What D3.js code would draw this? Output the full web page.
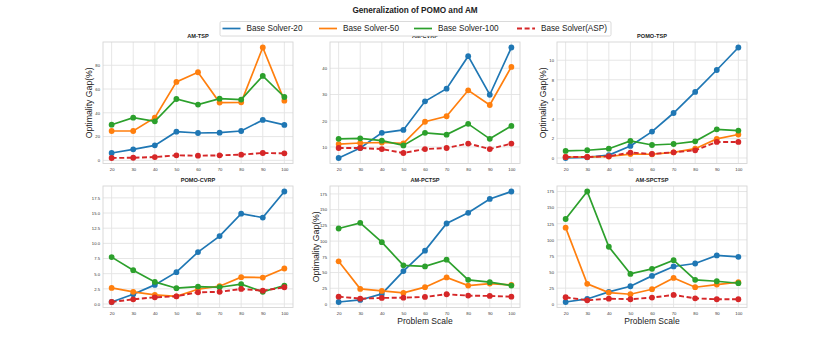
<!DOCTYPE html>
<html>
<head>
<meta charset="utf-8">
<script src="https://cdn.jsdelivr.net/npm/d3@7"></script>
<style>
  body { margin: 0; background: #fff; }
  svg { display: block; font-family: "Liberation Sans", Arial, sans-serif; }
</style>
</head>
<body>
<svg id="chart" width="830" height="346"></svg>
<script>
const scales = [20, 30, 40, 50, 60, 70, 80, 90, 100];
const seriesNames = ["Base Solver-20", "Base Solver-50", "Base Solver-100", "Base Solver(ASP)"];
const colors = ["#1f77b4", "#ff7f0e", "#2ca02c", "#d62728"];

// each panel: [solver-20, solver-50, solver-100, ASP]
const amTsp = [
    [6.2, 9.3, 12.6, 24.1, 23.0, 23.3, 24.7, 34.0, 29.8],
    [24.7, 24.7, 35.9, 66.0, 74.1, 48.6, 48.8, 94.9, 50.2],
    [30.0, 35.9, 32.8, 51.6, 46.9, 51.9, 51.1, 71.0, 53.3],
    [2.0, 2.2, 2.8, 4.2, 3.9, 4.2, 4.8, 6.2, 5.9]
];
const amCvrp = [
    [5.8, 9.6, 15.4, 16.5, 27.4, 32.2, 44.6, 29.9, 47.9],
    [11.1, 11.5, 11.7, 11.4, 19.6, 21.7, 31.6, 26.0, 40.5],
    [13.1, 13.3, 12.4, 10.6, 15.4, 14.7, 18.8, 13.1, 18.0],
    [9.6, 9.6, 9.2, 7.7, 9.2, 9.6, 11.3, 9.2, 11.3]
];
const pomoTsp = [
    [0.0, 0.07, 0.3, 1.23, 2.7, 4.6, 6.76, 9.0, 11.3],
    [0.1, 0.1, 0.15, 0.4, 0.38, 0.58, 0.95, 1.95, 2.4],
    [0.72, 0.79, 0.95, 1.74, 1.33, 1.43, 1.7, 2.93, 2.8],
    [0.1, 0.1, 0.17, 0.55, 0.41, 0.58, 0.78, 1.64, 1.64]
];
const pomoCvrp = [
    [0.33, 1.6, 3.15, 5.25, 8.56, 11.2, 14.9, 14.25, 18.55],
    [2.65, 2.0, 1.5, 1.27, 2.43, 2.93, 4.42, 4.36, 5.85],
    [7.73, 5.58, 3.64, 2.6, 2.87, 2.76, 3.26, 2.0, 3.04],
    [0.33, 0.77, 1.1, 1.27, 1.93, 2.0, 2.48, 2.2, 2.76]
];
const amPctsp = [
    [3.2, 6.4, 16.0, 52.3, 84.8, 128.0, 145.0, 167.0, 178.8],
    [67.8, 24.0, 20.8, 17.6, 26.7, 42.2, 29.3, 32.5, 30.4],
    [120.0, 129.0, 98.2, 61.4, 59.8, 70.4, 38.4, 34.7, 29.3],
    [11.7, 8.5, 9.6, 10.1, 11.2, 15.5, 13.3, 12.8, 11.7]
];
const amSpctsp = [
    [3.6, 8.3, 19.2, 28.0, 44.1, 58.7, 63.3, 75.8, 73.7],
    [118.9, 31.7, 18.2, 15.6, 23.4, 41.0, 26.5, 30.6, 34.3],
    [132.4, 175.0, 89.3, 47.2, 55.0, 68.5, 37.9, 35.8, 32.7],
    [10.9, 6.2, 8.8, 7.8, 10.4, 14.5, 9.3, 7.8, 7.8]
];

const panels = [
    { title: "AM-TSP", data: amTsp, ticks: [0, 20, 40, 60, 80], fmt: "d", ylabel: true, xlabel: false },
    { title: "AM-CVRP", data: amCvrp, ticks: [10, 20, 30, 40], fmt: "d", ylabel: false, xlabel: false },
    { title: "POMO-TSP", data: pomoTsp, ticks: [0, 2, 4, 6, 8, 10], fmt: "d", ylabel: true, xlabel: false },
    { title: "POMO-CVRP", data: pomoCvrp, ticks: [0, 2.5, 5, 7.5, 10, 12.5, 15, 17.5], fmt: ".1f", ylabel: false, xlabel: false },
    { title: "AM-PCTSP", data: amPctsp, ticks: [0, 25, 50, 75, 100, 125, 150, 175], fmt: "d", ylabel: true, xlabel: true },
    { title: "AM-SPCTSP", data: amSpctsp, ticks: [0, 25, 50, 75, 100, 125, 150, 175], fmt: "d", ylabel: false, xlabel: true }
];

const svg = d3.select("#chart");
const colX = [103, 330, 557];
const rowY = [42, 186];
const pw = 190, ph = 121.5;

svg.append("text")
    .attr("x", 415).attr("y", 13)
    .attr("text-anchor", "middle")
    .attr("font-size", 8.2).attr("font-weight", "bold")
    .attr("fill", "#222")
    .text("Generalization of POMO and AM");

panels.forEach((p, i) => {
    const left = colX[i % 3], top = rowY[Math.floor(i / 3)];
    const g = svg.append("g").attr("transform", `translate(${left},${top})`);

    const x = d3.scaleLinear().domain([16, 104]).range([0, pw]);
    const all = p.data.flat();
    const lo = d3.min(all), hi = d3.max(all), pad = (hi - lo) * 0.05;
    const y = d3.scaleLinear().domain([lo - pad, hi + pad]).range([ph, 0]);

    // grid
    g.append("g").selectAll("line").data(scales).join("line")
        .attr("x1", d => x(d)).attr("x2", d => x(d))
        .attr("y1", 0).attr("y2", ph)
        .attr("stroke", "#e3e3e3").attr("stroke-width", 0.9);
    g.append("g").selectAll("line").data(p.ticks).join("line")
        .attr("x1", 0).attr("x2", pw)
        .attr("y1", d => y(d)).attr("y2", d => y(d))
        .attr("stroke", "#e3e3e3").attr("stroke-width", 0.9);

    g.append("rect")
        .attr("width", pw).attr("height", ph)
        .attr("fill", "none").attr("stroke", "#d6d6d6").attr("stroke-width", 0.9);

    // axes
    const xa = g.append("g").attr("transform", `translate(0,${ph})`)
        .call(d3.axisBottom(x).tickValues(scales).tickSize(0).tickPadding(5));
    const ya = g.append("g")
        .call(d3.axisLeft(y).tickValues(p.ticks).tickFormat(d3.format(p.fmt)).tickSize(0).tickPadding(3));
    [xa, ya].forEach(a => {
        a.select(".domain").remove();
        a.selectAll("text").attr("font-size", 4.2).attr("fill", "#333")
            .attr("font-family", "Liberation Sans, Arial, sans-serif");
    });

    const line = d3.line().x((d, j) => x(scales[j])).y(d => y(d));
    p.data.forEach((vals, s) => {
        g.append("path").datum(vals)
            .attr("fill", "none")
            .attr("stroke", colors[s])
            .attr("stroke-width", s === 3 ? 1.9 : 1.7)
            .attr("stroke-dasharray", s === 3 ? "5,2.6" : null)
            .attr("d", line);
        g.append("g").selectAll("circle").data(vals).join("circle")
            .attr("cx", (d, j) => x(scales[j]))
            .attr("cy", d => y(d))
            .attr("r", 2.9)
            .attr("fill", colors[s]);
    });

    g.append("text")
        .attr("x", pw / 2).attr("y", -4)
        .attr("text-anchor", "middle")
        .attr("font-size", 5.6).attr("font-weight", "bold").attr("fill", "#222")
        .text(p.title);

    if (p.ylabel) {
        g.append("text")
            .attr("transform", `translate(-11,${ph / 2}) rotate(-90)`)
            .attr("text-anchor", "middle")
            .attr("font-size", 8.7).attr("fill", "#222")
            .text("Optimality Gap(%)");
    }
    if (p.xlabel) {
        g.append("text")
            .attr("x", pw / 2).attr("y", ph + 16.5)
            .attr("text-anchor", "middle")
            .attr("font-size", 8.5).attr("fill", "#222")
            .text("Problem Scale");
    }
});

// legend (drawn on top)
const lg = svg.append("g");
lg.append("rect")
    .attr("x", 220).attr("y", 21.5).attr("width", 391).attr("height", 14.5)
    .attr("rx", 1.5)
    .attr("fill", "#fff").attr("stroke", "#d0d0d0").attr("stroke-width", 0.8);
const legX = [222.5, 319, 414, 517];
seriesNames.forEach((name, s) => {
    lg.append("line")
        .attr("x1", legX[s]).attr("x2", legX[s] + 18)
        .attr("y1", 28.5).attr("y2", 28.5)
        .attr("stroke", colors[s]).attr("stroke-width", s === 3 ? 1.9 : 1.7)
        .attr("stroke-dasharray", s === 3 ? "5,2.6" : null);
    lg.append("text")
        .attr("x", legX[s] + 24).attr("y", 31.3)
        .attr("font-size", 8.2).attr("fill", "#222")
        .text(name);
});
</script>
</body>
</html>
